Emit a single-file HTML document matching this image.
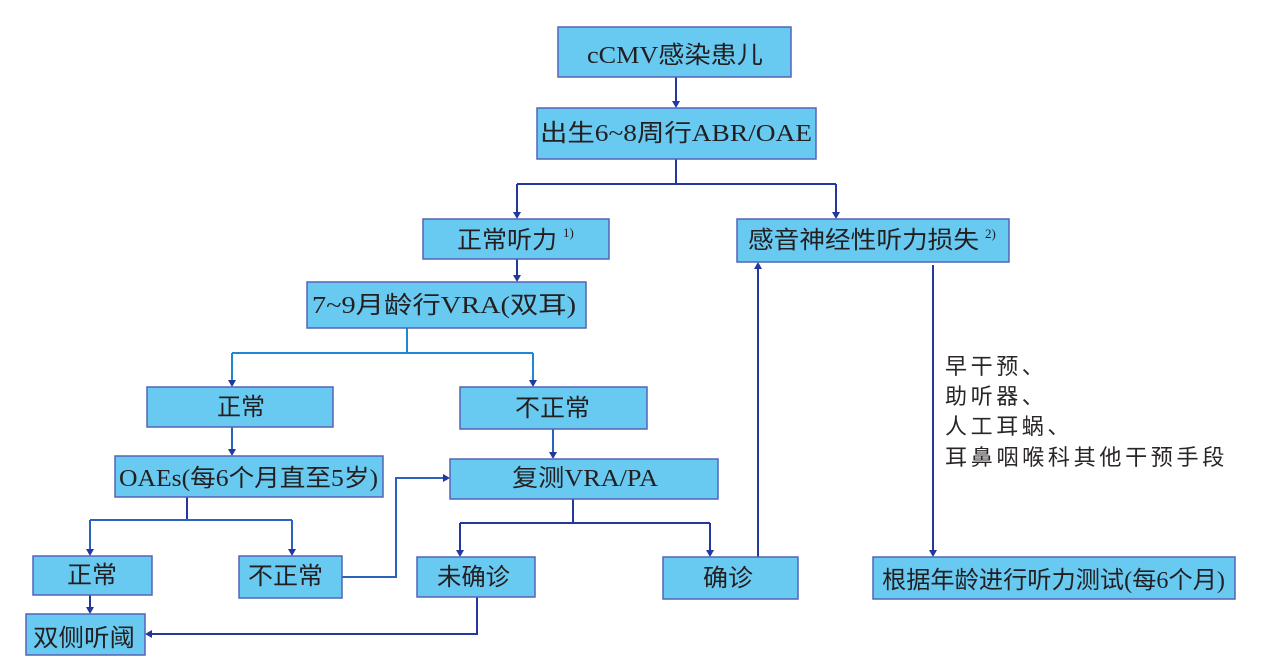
<!DOCTYPE html>
<html><head><meta charset="utf-8"><style>
html,body{margin:0;padding:0;background:#fff;}
svg{display:block;}
.b{fill:#68c9f1;stroke:#5563b5;stroke-width:1.5;}
.t{font-family:"Liberation Serif","Noto Sans CJK SC",serif;font-size:24px;fill:#231f20;}
.s{font-family:"Liberation Serif",serif;font-size:13px;fill:#231f20;}
.side{font-family:"Liberation Sans","Noto Sans CJK SC",sans-serif;font-size:22px;fill:#2a2626;letter-spacing:3.6px;}
.d{stroke:#23389e;stroke-width:2;fill:none;}
.l{stroke:#1f88d4;stroke-width:2;fill:none;}
.m{stroke:#2a62bd;stroke-width:2;fill:none;}
.a{fill:#23389e;}
</style></head><body>
<svg width="1269" height="664" viewBox="0 0 1269 664" xmlns="http://www.w3.org/2000/svg">
<rect width="1269" height="664" fill="#fff"/>

<!-- connectors -->
<path class="d" d="M676 77V103"/>
<path class="d" d="M676 159V184M517 184H836M517 184V214M836 184V214"/>
<path class="d" d="M517 259V277"/>
<path class="l" d="M407 328V353M232 353H533M232 353V382M533 353V382"/>
<path class="m" d="M232 427V451"/>
<path class="m" d="M553 429V454"/>
<path class="d" d="M187 497V520"/>
<path class="m" d="M90 520H292M90 520V551M292 520V551"/>
<path class="d" d="M90 595V609"/>
<path class="m" d="M342 577H396V478H445"/>
<path class="d" d="M573 499V523M460 523H710M460 523V552M710 523V552"/>
<path class="d" d="M477 597V634H150"/>
<path class="d" d="M758 557V268"/>
<path class="d" d="M933 265V552"/>

<!-- arrowheads -->
<polygon class="a" points="672,101 680,101 676,108"/>
<polygon class="a" points="513,212 521,212 517,219"/>
<polygon class="a" points="832,212 840,212 836,219"/>
<polygon class="a" points="513,275 521,275 517,282"/>
<polygon class="a" points="228,380 236,380 232,387"/>
<polygon class="a" points="529,380 537,380 533,387"/>
<polygon class="a" points="228,449 236,449 232,456"/>
<polygon class="a" points="549,452 557,452 553,459"/>
<polygon class="a" points="86,549 94,549 90,556"/>
<polygon class="a" points="288,549 296,549 292,556"/>
<polygon class="a" points="86,607 94,607 90,614"/>
<polygon class="a" points="443,474 443,482 450,478"/>
<polygon class="a" points="456,550 464,550 460,557"/>
<polygon class="a" points="706,550 714,550 710,557"/>
<polygon class="a" points="152,630 152,638 145,634"/>
<polygon class="a" points="754,269 762,269 758,262"/>
<polygon class="a" points="929,550 937,550 933,557"/>

<!-- boxes -->
<rect class="b" x="558" y="27" width="233" height="50"/>
<rect class="b" x="537" y="108" width="279" height="51"/>
<rect class="b" x="423" y="219" width="186" height="40"/>
<rect class="b" x="737" y="219" width="272" height="43"/>
<rect class="b" x="307" y="282" width="279" height="46"/>
<rect class="b" x="147" y="387" width="186" height="40"/>
<rect class="b" x="460" y="387" width="187" height="42"/>
<rect class="b" x="115" y="456" width="268" height="41"/>
<rect class="b" x="450" y="459" width="268" height="40"/>
<rect class="b" x="33" y="556" width="119" height="39"/>
<rect class="b" x="239" y="556" width="103" height="42"/>
<rect class="b" x="26" y="614" width="119" height="41"/>
<rect class="b" x="417" y="557" width="118" height="40"/>
<rect class="b" x="663" y="557" width="135" height="42"/>
<rect class="b" x="873" y="557" width="362" height="42"/>

<!-- labels -->
<text class="t" x="587" y="63" textLength="176" lengthAdjust="spacingAndGlyphs">cCMV感染患儿</text>
<text class="t" x="540" y="141" textLength="272" lengthAdjust="spacingAndGlyphs">出生6~8周行ABR/OAE</text>
<text class="t" x="457" y="248" textLength="100" lengthAdjust="spacingAndGlyphs">正常听力</text>
<text class="s" x="563" y="237">1)</text>
<text class="t" x="748" y="248" textLength="231" lengthAdjust="spacingAndGlyphs">感音神经性听力损失</text>
<text class="s" x="985" y="238">2)</text>
<text class="t" x="312" y="313" textLength="264" lengthAdjust="spacingAndGlyphs">7~9月龄行VRA(双耳)</text>
<text class="t" x="217" y="415" textLength="48" lengthAdjust="spacingAndGlyphs">正常</text>
<text class="t" x="515" y="416" textLength="75" lengthAdjust="spacingAndGlyphs">不正常</text>
<text class="t" x="119" y="486" textLength="259" lengthAdjust="spacingAndGlyphs">OAEs(每6个月直至5岁)</text>
<text class="t" x="512" y="486" textLength="146" lengthAdjust="spacingAndGlyphs">复测VRA/PA</text>
<text class="t" x="67" y="583" textLength="50" lengthAdjust="spacingAndGlyphs">正常</text>
<text class="t" x="248" y="584" textLength="75" lengthAdjust="spacingAndGlyphs">不正常</text>
<text class="t" x="33" y="646" textLength="102" lengthAdjust="spacingAndGlyphs">双侧听阈</text>
<text class="t" x="437" y="585" textLength="73" lengthAdjust="spacingAndGlyphs">未确诊</text>
<text class="t" x="703" y="586" textLength="50" lengthAdjust="spacingAndGlyphs">确诊</text>
<text class="t" x="882" y="588" textLength="343" lengthAdjust="spacingAndGlyphs">根据年龄进行听力测试(每6个月)</text>

<text class="side" x="945" y="374">早干预、</text>
<text class="side" x="945" y="404">助听器、</text>
<text class="side" x="945" y="434">人工耳蜗、</text>
<text class="side" x="945" y="465" textLength="283" lengthAdjust="spacingAndGlyphs">耳鼻咽喉科其他干预手段</text>
</svg>
</body></html>
